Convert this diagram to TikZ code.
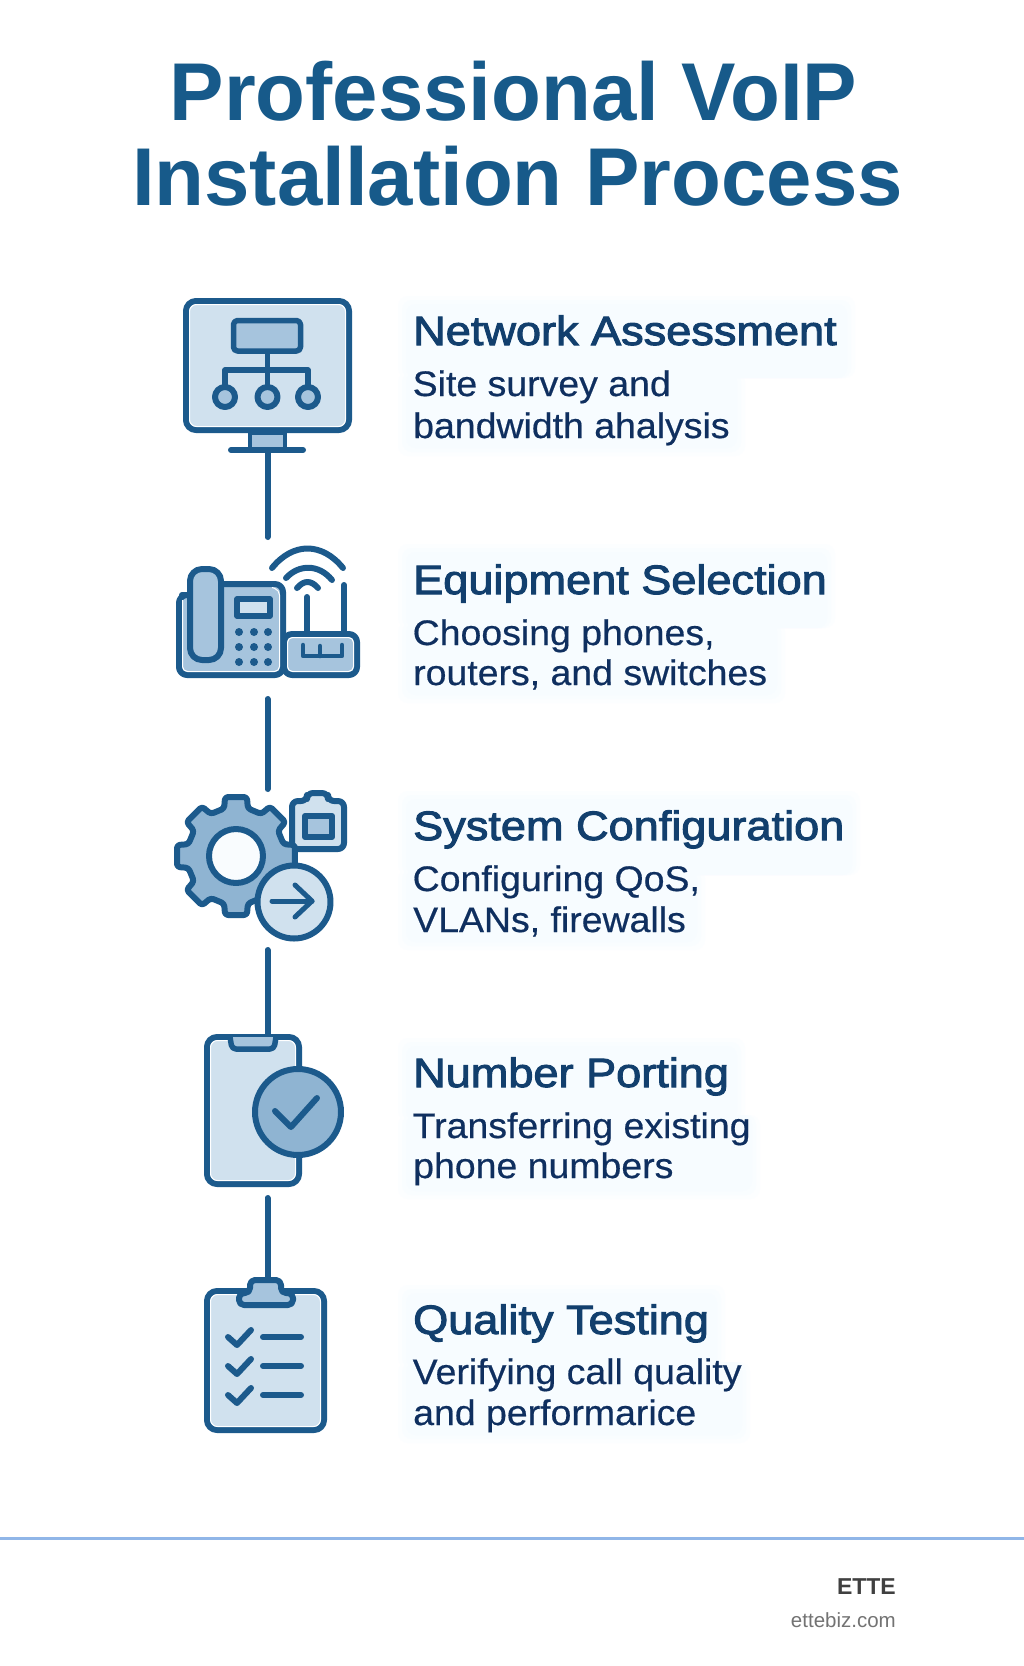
\documentclass[tikz,border=0pt]{standalone}
\usepackage{fontspec}
\setmainfont{Liberation Sans}
\newfontfamily\headfont[FakeStretch=1.10,FakeBold=2.4]{Liberation Sans}
\newfontfamily\descfont[FakeStretch=1.055,FakeBold=0.5]{Liberation Sans}
\newfontfamily\titlefont[FakeStretch=0.995]{Liberation Sans Bold}
\definecolor{ink}{HTML}{1C5A8C}
\definecolor{lightfill}{HTML}{D0E1EE}
\definecolor{midfill}{HTML}{A6C4DD}
\definecolor{gearfill}{HTML}{8FB4D2}
\definecolor{holefill}{HTML}{F9FCFE}
\definecolor{haloa}{HTML}{FCFEFF}
\definecolor{halob}{HTML}{F9FDFF}
\definecolor{haloc}{HTML}{F7FCFF}
\definecolor{headcol}{HTML}{123F6D}
\definecolor{desccol}{HTML}{0F2F5F}
\definecolor{titlecol}{HTML}{175A8A}
\definecolor{rulecol}{HTML}{90B6E8}
\tikzset{
  ico/.style={draw=ink,line width=6pt,line join=round,line cap=round},
  thin/.style={draw=ink,line width=5.5pt,line join=round,line cap=round},
  glow/.style={draw=white,line width=1pt},
  link/.style={draw=ink,line width=6pt,line cap=round},
  headtxt/.style={anchor=base west,inner sep=0pt,text=headcol,font=\headfont\fontsize{41}{41}\selectfont},
  desctxt/.style={anchor=base west,inner sep=0pt,text=desccol,font=\descfont\fontsize{35.5}{35.5}\selectfont},
  bigtxt/.style={anchor=base,inner sep=0pt,text=titlecol,font=\titlefont\fontsize{82}{82}\selectfont},
}
\newcommand{\halobox}[6]{%
  \foreach \ins/\hc in {0/haloa,4/halob,8/haloc}{%
    \fill[\hc,rounded corners=10pt] (#1+\ins,#2+\ins) rectangle (#3-\ins,#4+3);
    \fill[\hc,rounded corners=10pt] (#1+\ins,#4-3) rectangle (#5-\ins,#6-\ins);
  }}
\begin{document}
\begin{tikzpicture}[x=1pt,y=-1pt]
\useasboundingbox (0,0) rectangle (1024,1666);
\fill[white] (0,0) rectangle (1024,1666);
% halos
\halobox{398}{296}{855}{375}{745}{456}
\halobox{398}{544}{835}{625}{785}{703}
\halobox{398}{791}{860}{872}{705}{950}
\halobox{398}{1038}{745}{1118}{760}{1199}
\halobox{398}{1285}{725}{1365}{750}{1443}
% title
\node[bigtxt] (t1) at (513.5,120) {Professional VoIP};
\node[bigtxt] (t2) at (517.5,205) {Installation Process};
% connectors
\coordinate (c1a) at (267.5,450); \coordinate (c1b) at (267.5,537);
\coordinate (c2a) at (267.5,699); \coordinate (c2b) at (267.5,789);
\coordinate (c3a) at (267.5,950); \coordinate (c3b) at (267.5,1036);
\coordinate (c4a) at (267.5,1198); \coordinate (c4b) at (267.5,1279);
\draw[link] (c1a) -- (c1b);
\draw[link] (c2a) -- (c2b);
\draw[link] (c3a) -- (c3b);
\draw[link] (c4a) -- (c4b);
% icon 1: monitor
\draw[ico,fill=midfill,line width=4.5pt] (250,433) rectangle (285,449);
\draw[ico,fill=lightfill,rounded corners=10pt] (186,301) rectangle (349,430);
\draw[glow,rounded corners=7pt] (189.5,304.5) rectangle (345.5,426.5);
\draw[ico] (231,450) -- (303,450);
\draw[thin,fill=midfill,rounded corners=4pt] (233.5,320.5) rectangle (300.5,351);
\draw[thin] (267.5,352) -- (267.5,386);
\draw[thin] (225,386) -- (225,370) -- (308,370) -- (308,386);
\foreach \cx in {225,267.5,308}{\draw[ico,fill=midfill] (\cx,397) circle (10);}
% icon 2: phone and router
\draw[ico,fill=midfill,rounded corners=8pt] (190,595) -- (179,595) -- (179,675) -- (283,675) -- (283,584) -- (210,584) -- (210,595) -- cycle;
\draw[glow,rounded corners=5pt] (182.5,600) -- (182.5,671.5) -- (279.5,671.5) -- (279.5,590) -- (272,587.5);
\draw[ico,fill=midfill,rounded corners=12pt] (190,569) rectangle (221,660);
\draw[thin,fill=lightfill] (237,599) rectangle (270,616);
\foreach \dy in {632,647,662}{\foreach \dx in {239,254,268}{\fill[ink] (\dx,\dy) circle (4);}}
\draw[ico,fill=midfill,rounded corners=8pt] (284,634) rectangle (357,675);
\draw[glow,rounded corners=5pt] (287.5,637.5) rectangle (353.5,671.5);
\draw[thin,line width=4.5pt] (303,645) -- (303,656) -- (342,656) -- (342,645);
\draw[thin,line width=4.5pt] (320,646) -- (320,656);
\draw[ico] (307,597) -- (307,632);
\draw[ico] (344,585) -- (344,632);
\draw[ico] (272,568) .. controls (293,542) and (322,542) .. (343,568);
\draw[ico] (286,578) .. controls (299,564) and (319,564) .. (332,580);
\draw[ico] (297,588) .. controls (304,580) and (311,580) .. (318,588);
% icon 3: gear, badge, arrow circle
\draw[ico,fill=lightfill,rounded corners=6pt] (292,801) -- (307,801) -- (307,793) -- (328,793) -- (328,801) -- (344,801) -- (344,849) -- (292,849) -- cycle;
\draw[thin,fill=midfill,line width=6pt] (305,816) rectangle (332,837);
\begin{scope}[shift={(236,856)}]
\draw[ico,fill=gearfill,rounded corners=3pt]
  (-14:49) -- (-10.5:60) -- (10.5:60) -- (14:49)
  -- (31:49) -- (34.5:60) -- (55.5:60) -- (59:49)
  -- (76:49) -- (79.5:60) -- (100.5:60) -- (104:49)
  -- (121:49) -- (124.5:60) -- (145.5:60) -- (149:49)
  -- (166:49) -- (169.5:60) -- (190.5:60) -- (194:49)
  -- (211:49) -- (214.5:60) -- (235.5:60) -- (239:49)
  -- (256:49) -- (259.5:60) -- (280.5:60) -- (284:49)
  -- (301:49) -- (304.5:60) -- (325.5:60) -- (329:49) -- cycle;
\draw[ico,fill=holefill] (0,0) circle (27);
\end{scope}
\draw[ico,fill=lightfill] (294,902) circle (36.5);
\draw[ico,line width=5pt] (272,901) -- (312,901);
\draw[ico,line width=5pt] (295,885) -- (312,901) -- (295,917);
% icon 4: phone with tick
\draw[ico,fill=lightfill,rounded corners=10pt] (207,1037) rectangle (299,1184);
\draw[glow,rounded corners=7pt] (210.5,1040.5) rectangle (295.5,1180.5);
\draw[thin,fill=midfill,rounded corners=4pt] (230,1037) -- (232,1049) -- (274,1049) -- (276,1037);
\draw[ico,fill=gearfill] (298,1112) circle (43);
\draw[ico] (275,1111) -- (291,1127) -- (317,1098);
% icon 5: clipboard
\draw[ico,fill=lightfill,rounded corners=10pt] (207,1291) rectangle (324,1430);
\draw[glow,rounded corners=7pt] (210.5,1294.5) rectangle (320.5,1426.5);
\draw[ico,fill=midfill,rounded corners=5pt] (239,1293) -- (250,1293) -- (250,1280) -- (281,1280) -- (281,1293) -- (293,1293) -- (293,1305) -- (239,1305) -- cycle;
\foreach \ry in {0,29,58}{
  \draw[ico] (228,1337+\ry) -- (237,1345+\ry) -- (251,1330+\ry);
  \draw[ico] (263,1337+\ry) -- (301,1337+\ry);
}
% labels
\node[headtxt] (h1) at (413,345) {Network Assessment};
\node[desctxt] (d1a) at (412.5,396) {Site survey and};
\node[desctxt] (d1b) at (413,438) {bandwidth ahalysis};
\node[headtxt] (h2) at (413,594) {Equipment Selection};
\node[desctxt] (d2a) at (412.5,645) {Choosing phones,};
\node[desctxt] (d2b) at (413,685) {routers, and switches};
\node[headtxt] (h3) at (413,840) {System Configuration};
\node[desctxt] (d3a) at (412.5,891) {Configuring QoS,};
\node[desctxt] (d3b) at (413,932) {VLANs, firewalls};
\node[headtxt] (h4) at (413,1087) {Number Porting};
\node[desctxt] (d4a) at (412.5,1138) {Transferring existing};
\node[desctxt] (d4b) at (413,1178) {phone numbers};
\node[headtxt] (h5) at (413,1334) {Quality Testing};
\node[desctxt] (d5a) at (412.5,1384) {Verifying call quality};
\node[desctxt] (d5b) at (413,1425) {and performarice};
% footer
\coordinate (fa) at (0,1538); \coordinate (fb) at (1024,1538);
\draw[draw=rulecol,line width=3pt] (fa) -- (fb);
\node[anchor=base east,inner sep=0pt,text=black!75,font=\bfseries\fontsize{23}{23}\selectfont] (f1) at (896,1594) {ETTE};
\node[anchor=base east,inner sep=0pt,text=black!55,font=\fontsize{20.5}{20.5}\selectfont] (f2) at (896,1627) {ettebiz.com};
\end{tikzpicture}
\end{document}
